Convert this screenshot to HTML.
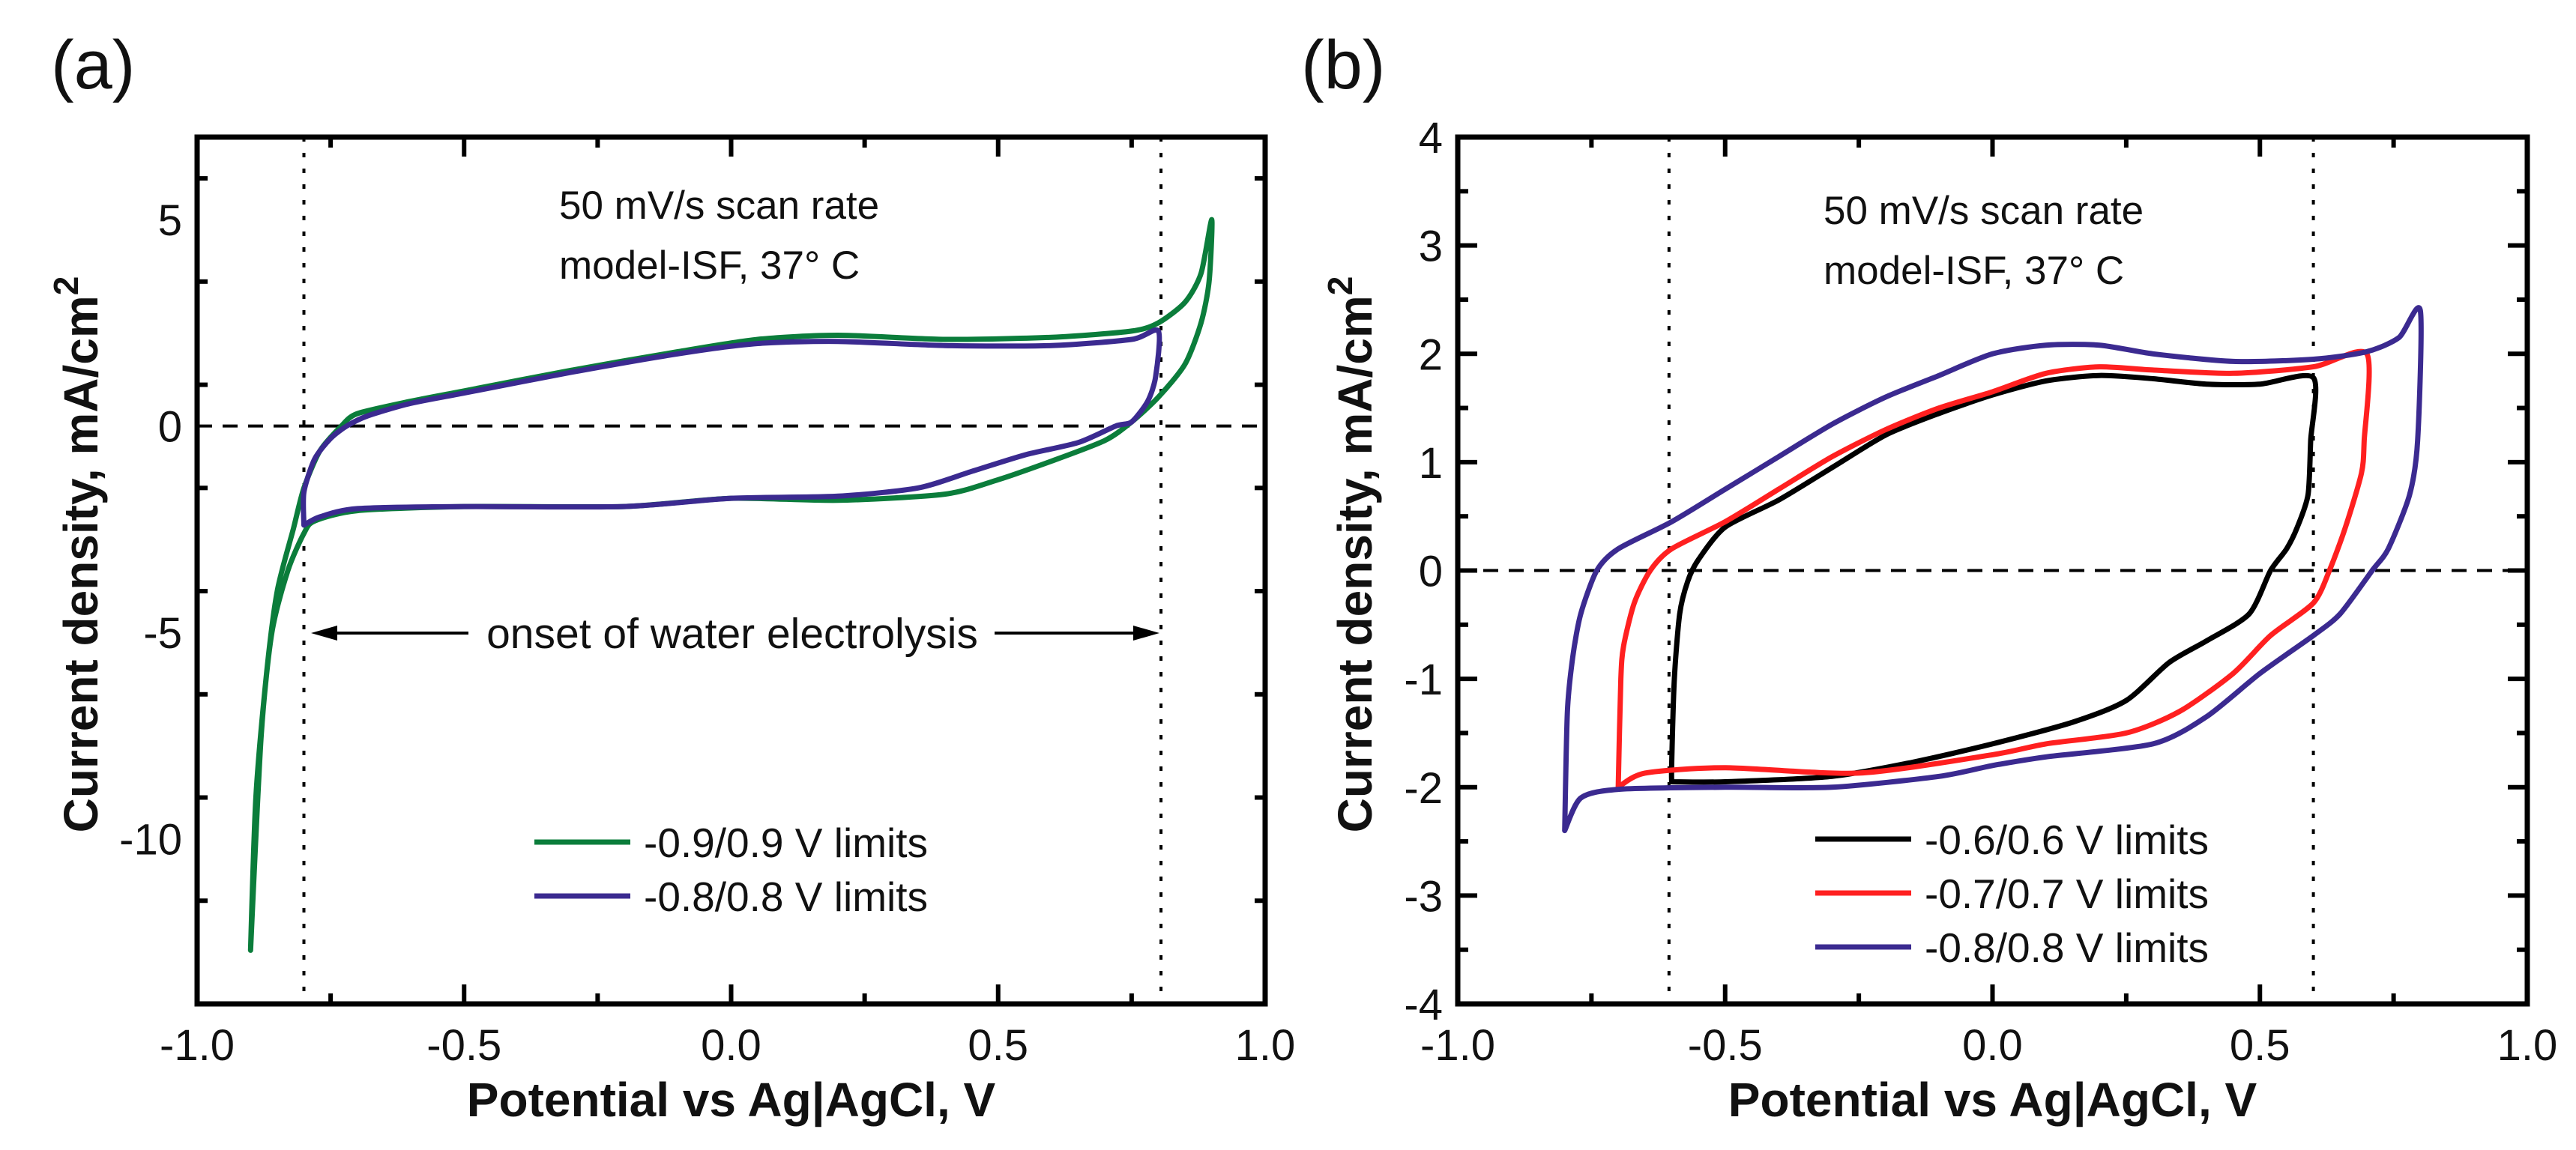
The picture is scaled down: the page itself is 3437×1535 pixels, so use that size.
<!DOCTYPE html>
<html><head><meta charset="utf-8"><style>
html,body{margin:0;padding:0;background:#fff;}
svg{display:block;font-family:"Liberation Sans",Arial,sans-serif;}
</style></head><body>
<svg id="fig" width="3437" height="1535" viewBox="0 0 3437 1535" xmlns="http://www.w3.org/2000/svg"></svg>
<script>
// Panel (a) data
const aXTicks = [-1.0, -0.5, 0.0, 0.5, 1.0];
const aXTickLabels = ["-1.0", "-0.5", "0.0", "0.5", "1.0"];
const aYTicks = [5, 0, -5, -10];
const aYTickLabels = ["5", "0", "-5", "-10"];
const aGreenX = [-0.9,-0.89,-0.87,-0.85,-0.82,-0.8,-0.77,-0.73,-0.7,-0.6,-0.5,-0.3,-0.1,0.05,0.2,0.4,0.6,0.75,0.8,0.85,0.88,0.9,0.895,0.88,0.85,0.8,0.75,0.7,0.6,0.5,0.4,0.2,0,-0.2,-0.5,-0.7,-0.78,-0.8,-0.83,-0.86,-0.88,-0.9];
const aGreenY = [-12.7,-9,-6,-4,-2.5,-1.5,-0.6,0,0.3,0.6,0.85,1.35,1.8,2.1,2.2,2.1,2.15,2.3,2.5,3,3.7,5,3.5,2.5,1.5,0.7,0.1,-0.35,-0.85,-1.3,-1.65,-1.8,-1.75,-1.95,-1.95,-2.05,-2.3,-2.6,-3.5,-5,-7.5,-12.7];
const aPurpleX = [-0.8,-0.8,-0.78,-0.75,-0.72,-0.68,-0.6,-0.5,-0.3,-0.1,0.05,0.2,0.4,0.6,0.75,0.8,0.795,0.78,0.75,0.72,0.65,0.55,0.45,0.35,0.2,0,-0.2,-0.5,-0.7,-0.77,-0.8];
const aPurpleY = [-2.4,-1.6,-0.8,-0.3,0,0.25,0.55,0.8,1.3,1.75,2.0,2.05,1.95,1.95,2.1,2.3,1.2,0.6,0.1,0,-0.4,-0.7,-1.1,-1.5,-1.7,-1.75,-1.95,-1.95,-2.0,-2.2,-2.4];
// Panel (b) data
const bXTicks = [-1.0, -0.5, 0.0, 0.5, 1.0];
const bXTickLabels = ["-1.0", "-0.5", "0.0", "0.5", "1.0"];
const bYTicks = [4,3,2,1,0,-1,-2,-3,-4];
const bYTickLabels = ["4","3","2","1","0","-1","-2","-3","-4"];
const bBlackX = [-0.6,-0.6,-0.595,-0.585,-0.57,-0.55,-0.5,-0.4,-0.3,-0.2,-0.1,0,0.1,0.2,0.3,0.4,0.5,0.6,0.595,0.59,0.57,0.55,0.52,0.48,0.4,0.33,0.25,0.15,0.0,-0.15,-0.3,-0.5,-0.6];
const bBlackY = [-1.95,-1.8,-1,-0.4,-0.1,0.1,0.4,0.65,0.95,1.25,1.45,1.62,1.75,1.8,1.77,1.72,1.72,1.78,1.2,0.7,0.4,0.2,0,-0.4,-0.65,-0.85,-1.2,-1.4,-1.6,-1.77,-1.9,-1.95,-1.95];
const bRedX = [-0.7,-0.695,-0.69,-0.67,-0.64,-0.6,-0.5,-0.4,-0.3,-0.2,-0.1,0,0.1,0.2,0.3,0.45,0.6,0.7,0.695,0.69,0.66,0.63,0.6,0.52,0.45,0.35,0.25,0.1,0,-0.25,-0.5,-0.65,-0.7];
const bRedY = [-2.0,-1,-0.7,-0.3,0,0.2,0.45,0.75,1.05,1.3,1.5,1.65,1.82,1.88,1.85,1.82,1.88,2.0,1.2,0.9,0.4,0,-0.3,-0.6,-0.95,-1.3,-1.5,-1.6,-1.7,-1.87,-1.82,-1.87,-2.0];
const bPurpleX = [-0.8,-0.795,-0.785,-0.77,-0.74,-0.7,-0.6,-0.5,-0.4,-0.3,-0.2,-0.1,0,0.1,0.2,0.3,0.45,0.6,0.7,0.76,0.8,0.795,0.78,0.74,0.71,0.65,0.6,0.5,0.4,0.3,0.1,0,-0.1,-0.3,-0.5,-0.7,-0.77,-0.8];
const bPurpleY = [-2.4,-1.3,-0.8,-0.4,0,0.2,0.45,0.75,1.05,1.35,1.6,1.8,2.0,2.08,2.08,2.0,1.93,1.95,2.02,2.15,2.4,1.2,0.7,0.2,0,-0.4,-0.6,-0.95,-1.35,-1.6,-1.72,-1.8,-1.9,-2.0,-2.0,-2.02,-2.1,-2.4];

const NS = "http://www.w3.org/2000/svg";
const svg = document.getElementById('fig');
function mk(tag, attrs, parent){const e=document.createElementNS(NS,tag);for(const k in attrs)e.setAttribute(k,attrs[k]);(parent||svg).appendChild(e);return e;}
function txt(s, attrs, parent){const e=mk('text',attrs,parent);e.textContent=s;return e;}
function smooth(P){
  let d = 'M'+P[0][0].toFixed(1)+','+P[0][1].toFixed(1);
  const t = 1/8;
  for(let i=0;i<P.length-1;i++){
    const p0=P[Math.max(0,i-1)],p1=P[i],p2=P[i+1],p3=P[Math.min(P.length-1,i+2)];
    const c1=[p1[0]+(p2[0]-p0[0])*t,p1[1]+(p2[1]-p0[1])*t];
    const c2=[p2[0]-(p3[0]-p1[0])*t,p2[1]-(p3[1]-p1[1])*t];
    d+=' C'+c1[0].toFixed(1)+','+c1[1].toFixed(1)+' '+c2[0].toFixed(1)+','+c2[1].toFixed(1)+' '+p2[0].toFixed(1)+','+p2[1].toFixed(1);
  }
  return d;
}

function panel(cfg){
  const g = mk('g',{});
  
  
  const L=cfg.L,R=cfg.R,T=183,B=1340;
  const sx = v => L + (v - cfg.xmin)/(cfg.xmax-cfg.xmin)*(R-L);
  const sy = v => B - (v - cfg.ymin)/(cfg.ymax-cfg.ymin)*(B-T);
  const zl = mk('line',{x1:L,x2:R,y1:sy(0),y2:sy(0),stroke:'#000','stroke-width':4,'stroke-dasharray':'20 14'},g);
   
  cfg.vlines.forEach(v=>{const l=mk('line',{x1:sx(v),x2:sx(v),y1:T,y2:B,stroke:'#000','stroke-width':4,'stroke-dasharray':'6 15'},g);
     });
  for(let v=cfg.xmin; v<=cfg.xmax+1e-9; v+=cfg.xminor){
    const major = Math.abs(Math.round(v/cfg.xmajor)*cfg.xmajor - v)<1e-6;
    const len = major?26:14, x=sx(v);
    mk('line',{x1:x,x2:x,y1:B,y2:B-len,stroke:'#000','stroke-width':6},g);
    mk('line',{x1:x,x2:x,y1:T,y2:T+len,stroke:'#000','stroke-width':6},g);
  }
  for(let v=cfg.ymin; v<=cfg.ymax+1e-9; v+=cfg.yminor){
    const major = Math.abs(Math.round(v/cfg.ymajor)*cfg.ymajor - v)<1e-6;
    const len = major?26:14, y=sy(v);
    mk('line',{x1:L,x2:L+len,y1:y,y2:y,stroke:'#000','stroke-width':6},g);
    mk('line',{x1:R,x2:R-len,y1:y,y2:y,stroke:'#000','stroke-width':6},g);
  }
  cfg.xt.forEach((v,i)=>{const t=txt(cfg.xtl[i],{x:sx(v),y:1415,'font-size':58,'text-anchor':'middle',fill:'#111'},g);
     });
  cfg.yt.forEach((v,i)=>{const t=txt(cfg.ytl[i],{x:L-20,y:sy(v)+21,'font-size':58,'text-anchor':'end',fill:'#111'},g);
     });
  cfg.series.forEach(s=>{
    const P = s.x.map((v,i)=>[sx(v),sy(s.y[i])]);
    const p = mk('path',{d:smooth(P),fill:'none',stroke:s.c,'stroke-width':7,'stroke-linejoin':'round','stroke-linecap':'round'},g);
     
  });
  const f = mk('rect',{x:L,y:T,width:R-L,height:B-T,fill:'none',stroke:'#000','stroke-width':7},g);
   
  const xt = txt('Potential vs Ag|AgCl, V',{x:(L+R)/2,y:1490,'font-size':64,'font-weight':'bold','text-anchor':'middle',fill:'#111'},g);
   
  const yt = mk('text',{x:0,y:0,'font-size':64,'font-weight':'bold','text-anchor':'middle',fill:'#111',transform:`translate(${cfg.ytx},740) rotate(-90)`},g);
   
  yt.textContent='Current density, mA/cm';
  const sup = mk('tspan',{dy:-26,'font-size':46},yt); sup.textContent='2';
  const pl = txt(cfg.label,{x:cfg.labx,y:118,'font-size':92,fill:'#111'},g);
   
  const a1 = txt('50 mV/s scan rate',{x:cfg.annx,y:cfg.anny,'font-size':53,fill:'#111'},g);
   
  const a2 = txt('model-ISF, 37° C',{x:cfg.annx,y:cfg.anny+80,'font-size':53,fill:'#111'},g);
   
  cfg.series.forEach((s,i)=>{
    const y = cfg.legy + i*72;
    const lg = mk('g',{},g);
     
    mk('line',{x1:cfg.legx,x2:cfg.legx+128,y1:y,y2:y,stroke:s.c,'stroke-width':7},lg);
    txt(s.lab,{x:cfg.legx+146,y:y+20,'font-size':55,fill:'#111'},lg);
  });
  return {g,sx,sy};
}

const pa = panel({name:'panel-a',label:'(a)',labx:68,L:263,R:1688,xmin:-1,xmax:1,ymin:-14,ymax:7,xmajor:0.5,xminor:0.25,ymajor:5,yminor:2.5,
  xt:aXTicks,xtl:aXTickLabels,yt:aYTicks,ytl:aYTickLabels,vlines:[-0.8,0.805],ytx:130,annx:746,anny:292,legx:713,legy:1124,
  series:[{x:aGreenX,y:aGreenY,c:'#0b7d3b',n:'series-0.9V',lab:'-0.9/0.9 V limits'},{x:aPurpleX,y:aPurpleY,c:'#3b2a90',n:'series-0.8V',lab:'-0.8/0.8 V limits'}]});
const pb = panel({name:'panel-b',label:'(b)',labx:1736,L:1945,R:3372,xmin:-1,xmax:1,ymin:-4,ymax:4,xmajor:0.5,xminor:0.25,ymajor:1,yminor:0.5,
  xt:bXTicks,xtl:bXTickLabels,yt:bYTicks,ytl:bYTickLabels,vlines:[-0.605,0.6],ytx:1830,annx:2433,anny:299,legx:2422,legy:1120,
  series:[{x:bBlackX,y:bBlackY,c:'#000',n:'series-0.6V',lab:'-0.6/0.6 V limits'},{x:bRedX,y:bRedY,c:'#ff2020',n:'series-0.7V',lab:'-0.7/0.7 V limits'},{x:bPurpleX,y:bPurpleY,c:'#3b2a90',n:'series-0.8V',lab:'-0.8/0.8 V limits'}]});

const ann = mk('g',{});


const ay = 845;
mk('line',{x1:425,x2:625,y1:ay,y2:ay,stroke:'#000','stroke-width':4},ann);
mk('polygon',{points:`415,${ay} 450,${ay-10} 450,${ay+10}`,fill:'#000'},ann);
mk('line',{x1:1327,x2:1535,y1:ay,y2:ay,stroke:'#000','stroke-width':4},ann);
mk('polygon',{points:`1547,${ay} 1512,${ay-10} 1512,${ay+10}`,fill:'#000'},ann);
txt('onset of water electrolysis',{x:977,y:ay+20,'font-size':57,'text-anchor':'middle',fill:'#111'},ann);
</script>
</body></html>
